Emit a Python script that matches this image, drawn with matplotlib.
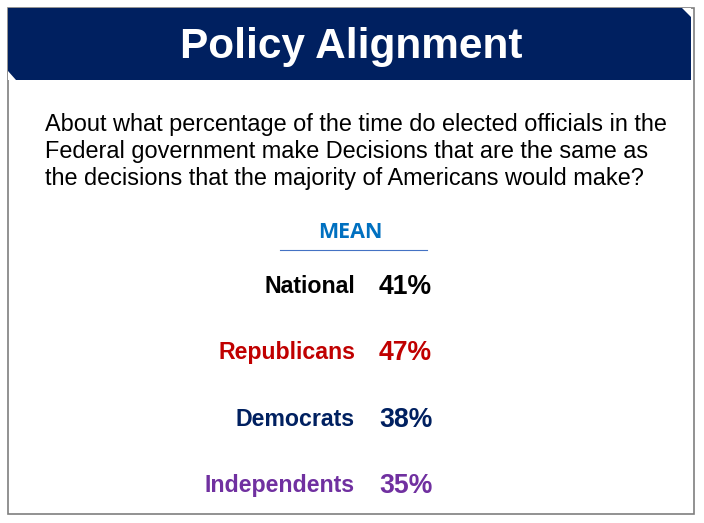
import matplotlib
matplotlib.use("Agg")
import matplotlib.pyplot as plt
from matplotlib.patches import Rectangle, Polygon

title = "Policy Alignment"
question = ["About what percentage of the time do elected officials in the",
            "Federal government make Decisions that are the same as",
            "the decisions that the majority of Americans would make?"]
header = "MEAN"
groups = ["National", "Republicans", "Democrats", "Independents"]
means = [41, 47, 38, 35]
colors = ["#000000", "#C00000", "#002060", "#7030A0"]

W, H = 704, 523
fig = plt.figure(figsize=(W / 100, H / 100), dpi=100)
ax = fig.add_axes([0, 0, 1, 1])
ax.set_xlim(0, W)
ax.set_ylim(H, 0)
ax.axis("off")

# slide frame and header band
ax.add_patch(Rectangle((8, 8), 686, 506, facecolor="white", edgecolor="#7F7F7F", lw=1.2))
ax.add_patch(Rectangle((8, 8), 683, 72, facecolor="#002060", edgecolor="none"))
ax.add_patch(Polygon([(682, 8), (691, 8), (691, 17)], facecolor="white", edgecolor="none"))
ax.add_patch(Polygon([(8, 71), (8, 80), (16, 80)], facecolor="white", edgecolor="none"))
ax.text(351, 47, title, color="white", fontsize=30.5, fontweight="bold",
        family="Liberation Sans", ha="center", va="center")

for i, line in enumerate(question):
    ax.text(45, 131 + 27 * i, line, color="black", fontsize=16.9,
            family="Liberation Sans", ha="left", va="baseline")

ax.text(350, 233, header, color="#0070C0", fontsize=15.5, fontweight="bold",
        family="Open Sans", ha="center", va="center")
ax.plot([280, 427], [250, 250], color="#4472C4", lw=0.8)

row_y = [293, 359, 426, 492]
for g, m, c, y in zip(groups, means, colors, row_y):
    ax.text(355, y, g, color=c, fontsize=16.7, fontweight="bold",
            family="Liberation Sans", ha="right", va="baseline")
    ax.text(379, y + 1, f"{m}%", color=c, fontsize=19.2, fontweight="bold",
            family="Liberation Sans", ha="left", va="baseline")

fig.savefig("out.png", dpi=100)
